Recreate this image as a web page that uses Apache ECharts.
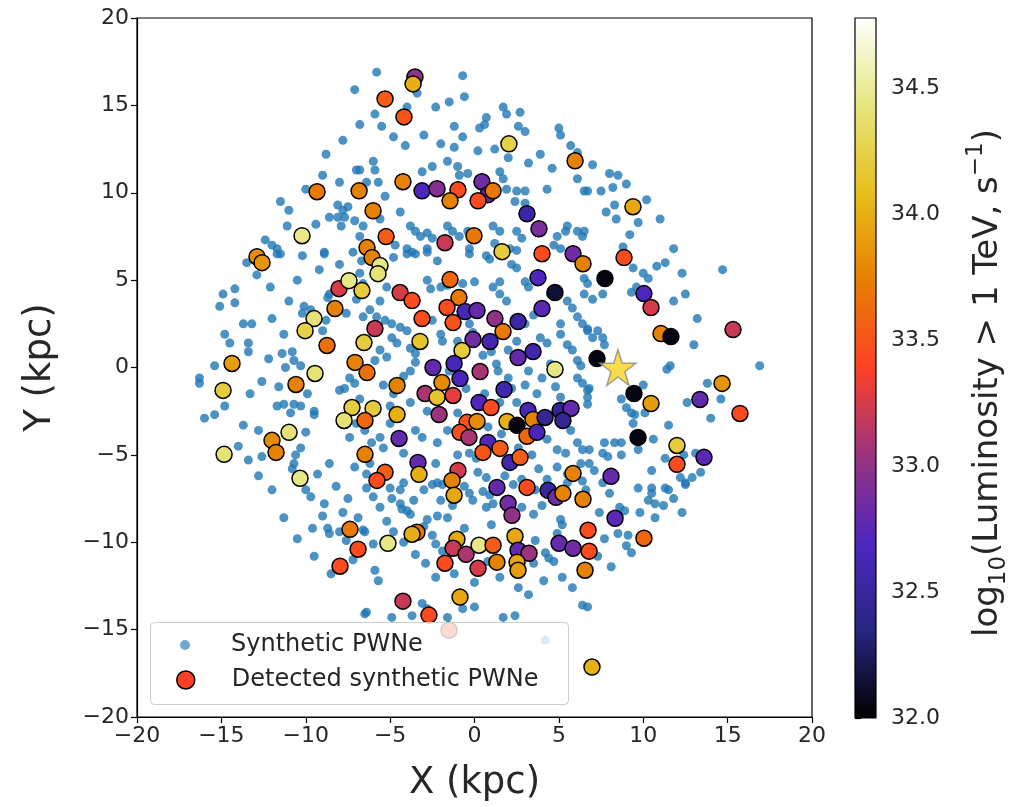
<!DOCTYPE html>
<html>
<head>
<meta charset="utf-8">
<script src="https://cdn.jsdelivr.net/npm/echarts@6/dist/echarts.min.js"></script>
<style>
  html, body { margin: 0; padding: 0; background: #fff; }
  #chart { width: 1012px; height: 807px; }
</style>
</head>
<body>
<div id="chart"></div>
<script>
// Galactic positions (kpc) of the synthetic pulsar wind nebulae population
const syntheticPWNe = [
  [-7.1,15.9],[-7.0,11.3],[-8.0,10.6],[-11.5,9.5],[-8.1,9.3],[-7.8,9.0],[-7.5,9.2],[-8.6,8.6],[-8.1,8.6],[-7.7,8.6],
  [-7.1,8.4],[-11.1,8.1],[-9.4,8.2],[-7.9,8.1],[-12.4,7.3],[-12.0,7.0],[-11.7,6.8],[-11.5,6.5],[-8.9,6.6],[-10.2,6.4],
  [-5.8,16.9],[-0.7,16.7],[-0.6,15.5],[-3.4,15.7],[-5.9,14.5],[-5.5,13.8],[-2.3,14.9],[-1.5,15.2],[-4.0,14.9],[-1.2,13.8],
  [-0.7,13.2],[-4.1,12.7],[0.7,14.3],[0.6,13.9],[0.3,13.7],[1.7,14.9],[1.9,14.5],[2.7,14.6],[2.6,13.8],[3.0,13.5],
  [5.0,13.7],[5.1,13.3],[3.9,12.2],[5.7,12.7],[6.1,12.3],[6.1,10.8],[6.5,10.1],[4.3,10.2],[-6.0,11.8],[-5.9,11.3],
  [-6.8,11.3],[-6.4,10.6],[-5.7,10.6],[-5.3,9.8],[-5.6,8.5],[-4.4,8.9],[-3.1,11.2],[-2.5,11.5],[-1.6,11.8],[-1.0,11.5],
  [-0.9,11.0],[-0.4,11.1],[1.5,11.2],[1.7,10.8],[1.9,10.2],[2.5,10.1],[3.0,10.1],[2.4,9.5],[3.0,9.4],[-3.8,8.1],
  [-3.5,7.8],[-3.2,7.5],[-2.8,7.7],[-2.5,7.4],[-1.6,8.1],[-1.3,7.8],[-0.9,7.5],[-0.4,7.8],[1.1,8.1],[1.5,7.8],
  [1.2,7.1],[2.5,7.8],[2.8,7.4],[-4.0,6.8],[-3.7,6.6],[-2.8,6.8],[-0.3,6.8],[2.1,6.8],[2.5,6.7],[4.9,7.5],
  [5.4,7.8],[5.5,8.1],[6.1,7.8],[6.4,7.5],[4.7,7.0],[5.1,6.8],[-6.6,8.1],[-6.8,7.5],[-5.1,7.5],[-4.7,7.0],
  [8.0,11.1],[8.5,11.0],[8.2,10.3],[6.7,10.1],[7.5,10.1],[8.3,9.3],[7.8,8.9],[8.4,8.5],[9.7,8.3],[9.2,7.6],
  [8.8,6.9],[6.5,7.8],
  [-11.7,6.5],[-8.9,6.5],[-6.8,5.4],[-14.2,4.5],[-14.9,4.2],[-15.1,3.5],[-14.2,3.7],[-12.1,4.6],[-13.7,2.5],[-13.2,2.5],
  [-14.8,1.9],[-14.5,1.4],[-13.4,1.4],[-13.4,0.9],[-11.3,1.9],[-11.4,0.8],[-10.8,0.9],[-10.7,0.4],[-10.3,0.1],[-11.2,0.0],
  [-10.1,3.5],[-10.2,3.1],[-9.7,3.3],[-8.7,4.0],[-8.6,4.2],[-9.0,2.1],[-7.6,3.1],[-8.8,2.7],[-15.4,0.1],[-16.3,-0.6],
  [-16.3,-0.9],[-11.6,-1.1],[-9.9,-1.5],[-11.7,-2.2],[-11.3,-2.1],[-10.7,-2.1],[-10.3,-2.2],[-10.9,-2.6],[-9.5,-2.5],[-9.5,-2.7],
  [-14.8,-2.2],[-16.0,-2.9],[-15.4,-2.7],[-13.7,-3.3],[-10.0,-3.7],[-10.3,-4.6],[-10.6,-5.0],[-12.6,-5.1],[-10.7,-5.5],[-8.6,-5.5],
  [-9.3,-6.1],[-10.8,-5.8],[-8.0,-1.3],[-7.7,-1.2],[-7.4,-0.6],[-7.1,-0.9],[-6.8,-1.8],[-7.4,-4.0],[-7.1,-5.7],[-7.0,-3.2],
  [-6.6,4.8],[-7.0,3.9],
  [-6.7,6.1],[-4.8,6.3],[-4.0,6.5],[-3.5,6.5],[-2.8,6.6],[-2.2,6.1],[-0.3,6.5],[0.7,6.4],[0.9,6.2],[2.2,5.9],
  [2.5,5.7],[3.0,4.9],[3.2,4.6],[5.5,3.8],[5.8,3.4],[6.1,2.9],[6.4,2.5],[6.7,2.1],[5.1,2.5],[5.5,1.3],
  [5.8,1.0],[6.1,0.4],[6.3,0.1],[6.1,-0.6],[6.4,-0.9],[4.8,-1.1],[5.1,-1.7],[6.7,-1.3],[6.7,-1.7],[5.7,-3.6],
  [6.1,-4.3],[6.4,-4.7],[6.3,-5.5],[-5.2,4.6],[-5.6,3.8],[-6.2,3.3],[-6.6,2.9],[-5.8,2.9],[-5.3,2.7],[-4.9,2.5],
  [-4.4,2.3],[-4.0,2.1],[-4.9,1.7],[-4.6,1.4],[-5.6,1.0],[-5.2,0.6],[-5.9,0.4],[-3.8,1.1],[-3.5,0.8],[-2.6,4.5],
  [-2.0,4.6],[-2.8,5.0],[-1.6,4.7],[-0.7,4.8],[0.0,4.9],[1.1,4.6],[1.5,4.9],[1.5,4.2],[1.9,3.8],[-0.3,2.5],
  [-0.1,2.0],[-2.0,1.9],[-1.9,1.5],[1.3,0.2],[1.4,-0.2],[2.0,-0.6],[3.9,1.7],[4.3,1.4],[5.1,1.9],[3.7,-1.5],
  [2.5,-2.0],[-3.5,-3.6],[-3.1,-4.0],[-5.0,-3.2],[-5.6,-4.0],[-5.4,-4.6],[-2.2,-4.3],[-1.6,-3.6],[-0.3,-4.9],[0.1,-5.2],
  [4.3,-4.1],[4.9,-4.7],[5.4,-4.9],[4.9,-5.7],[5.5,-6.1],[-4.2,-4.9],[-2.3,-5.5],[0.2,-6.0],[0.7,-6.3],[-4.2,-6.6],
  [-2.2,-6.6],[-1.9,-6.7],[5.5,-6.6],[6.4,-6.5],[-6.4,-6.1],[-6.1,-4.3],[-6.2,-5.5],[-6.7,-2.9],[-6.5,-3.6],
  [9.4,5.7],[10.0,5.4],[10.3,5.1],[10.8,5.8],[11.3,6.0],[14.7,5.6],[9.6,4.6],[9.3,4.3],[11.8,3.8],[6.5,5.1],
  [6.7,4.8],[6.5,4.2],[7.0,3.9],[7.6,4.2],[6.7,2.2],[7.3,2.1],[7.0,1.7],[7.6,1.7],[7.7,1.3],[11.4,-0.1],
  [11.6,0.1],[16.9,0.1],[13.8,-0.9],[14.0,-2.9],[10.0,-1.0],[8.7,-1.8],[9.0,-2.3],[9.3,-2.6],[9.5,-2.7],[9.4,-3.2],
  [10.1,-2.6],[6.8,-1.2],[6.7,-2.1],[7.7,-4.3],[8.3,-4.3],[8.7,-4.3],[7.6,-4.9],[7.9,-5.1],[8.7,-5.0],[9.7,-4.7],
  [6.8,-4.7],[6.8,-5.5],[7.1,-5.9],[13.1,-4.9],[13.4,-6.0],[12.9,-6.3],[12.2,-6.3],[9.7,-6.9],[10.5,-6.9],[11.3,-6.9],
  [12.5,-6.6],[7.6,-6.6],
  [-10.0,-7.0],[-9.7,-7.4],[-8.9,-7.8],[-9.0,-8.5],[-9.6,-9.2],[-8.7,-9.2],[-8.6,-9.5],[-8.0,-9.4],[-7.6,-9.9],[-6.5,-9.4],
  [-6.5,-14.1],
  [-5.0,-6.9],[-4.4,-7.0],[-4.9,-7.5],[-4.4,-7.8],[-4.0,-8.2],[-3.8,-8.4],[-4.3,-8.1],[-6.4,-6.9],[-6.0,-7.4],[-5.6,-8.0],
  [-6.6,-9.3],[-2.5,-6.7],[-2.0,-7.6],[-2.8,-8.7],[-2.2,-8.5],[-1.6,-8.6],[-3.0,-9.1],[-2.5,-9.6],[-2.3,-10.1],[-1.9,-10.5],
  [-0.3,-7.2],[-0.1,-7.6],[0.5,-7.1],[0.9,-7.3],[1.1,-7.8],[0.7,-8.0],[2.3,-6.7],[5.1,-8.7],[4.9,-9.5],[4.2,-10.6],
  [4.4,-10.9],[4.7,-11.1],[3.6,-9.9],[3.5,-11.2],[4.1,-12.2],[6.4,-13.6],[-5.9,-11.6],[-5.7,-12.2],[-6.4,-14.0],[-4.9,-14.3],
  [-3.7,-14.2],[-3.1,-13.5],[-2.8,-13.8],[-1.6,-14.3],[-0.7,-13.8],[0.0,-13.7],[1.7,-14.3],[2.4,-14.2],[-2.3,-12.0],[0.8,-11.1],
  [4.2,-15.6],
  [10.5,-7.2],[10.3,-7.6],[10.7,-7.8],[11.2,-7.9],[11.5,-7.0],[11.8,-7.5],[12.5,-6.7],[12.3,-8.3],[9.8,-8.3],[10.7,-8.6],
  [7.4,-8.3],[8.6,-8.0],[8.9,-8.2],[7.7,-9.8],[8.5,-9.5],[9.1,-9.6],[9.0,-10.2],[9.3,-10.6],[6.7,-13.7],
  [-3.0,3.0],[-2.5,2.7],[-1.0,1.5],[-0.5,1.0],[0.5,0.7],[1.0,0.9],[2.0,1.0],[2.5,1.5],[3.0,2.5],[3.5,3.0],
  [4.2,3.5],[4.5,4.2],[-4.2,-0.5],[-3.8,-0.2],[-3.5,0.3],[-1.5,-0.2],[-0.5,-1.2],[0.6,-1.5],[1.5,-2.0],[2.2,-1.2],
  [3.0,-1.0],[4.0,-0.6],[4.5,0.2],[3.2,-0.2],[-2.8,-2.5],[-3.8,-2.0],[-4.8,-1.5],[-5.4,-1.0],[-5.0,-2.2],[-1.0,-2.6],
  [0.8,-3.4],[1.6,-3.8],[2.6,-4.6],[3.4,-5.0],[3.8,-5.8],[4.3,-6.4],[-1.0,-5.0],[-0.6,-6.8],[1.8,-6.2],[2.8,-6.4],
  [3.6,-7.0],[-3.0,-7.0],[-3.6,-7.6],[-5.2,-8.8],[-4.8,-9.4],[-4.2,-10.0],[-3.5,-10.7],[-2.9,-11.2],[-1.2,-11.8],[0.0,-12.3],
  [1.5,-12.0],[2.6,-12.6],[3.2,-13.0],[5.2,-12.0],[5.8,-12.6],[-7.5,-7.5],[-8.2,-6.8],[-7.8,-8.3],[-6.9,-8.6],[-6.0,-10.1],
  [-7.2,-11.0],[-8.5,-11.8],[-9.5,-10.8],[-10.5,-9.8],[-11.3,-8.6],[-12.0,-7.0],[-12.8,-6.2],[-13.4,-5.3],[-14.0,-4.5],[-12.8,-3.6],
  [-13.3,-1.5],[-12.6,-0.8],[-12.2,0.5],[-12.0,2.8],[-11.0,3.8],[-10.5,5.0],[-9.2,5.6],[-8.0,5.9],[-7.2,6.6],[-12.9,5.3],
  [-13.5,6.0],[-11.0,9.0],[-10.0,10.2],[-9.0,11.0],[-8.8,12.2],[-7.8,13.0],[-6.8,13.9],[-4.8,13.2],[-3.0,13.3],[-2.0,12.8],
  [-1.2,12.6],[0.2,12.4],[1.2,12.5],[2.0,12.0],[3.2,11.7],[4.6,11.4],[7.0,11.6],[9.0,10.5],[10.2,9.6],[11.0,8.5],
  [11.8,6.8],[12.3,5.4],[12.5,4.2],[13.2,2.8],[13.0,1.3],[14.6,-1.8],[12.6,-2.0],[11.5,-3.3],[10.6,-4.1],[11.3,-5.2],
  [12.4,-5.0],[10.5,-5.9],[8.0,-7.2],[6.6,-7.0],[7.3,-10.8],[8.1,-11.4],[5.9,-10.4],[5.2,-9.0],[2.2,-9.5],[1.0,-9.0],
  [-0.6,-9.2],[-1.3,-7.9],[2.8,-8.0],[3.5,-8.4],[4.0,-7.9]
];

// Detected sources: x (kpc), y (kpc), log10 luminosity above 1 TeV
const detectedX = [
  -3.53,-3.64,-5.30,-4.18,2.04,9.39,5.96,-9.33,-6.84,-4.24,-3.11,-2.22,-0.98,-1.45,0.44,0.80,1.10,0.21,3.11,3.82,
  -6.01,-5.24,-1.75,-0.03,-10.22,1.63,4.00,5.84,6.43,8.86,-12.89,-12.59,-6.37,-6.07,-5.60,-5.72,7.73,4.77,3.76,-1.45,
  -4.41,-3.70,-0.92,-1.63,-0.56,0.15,1.21,1.69,2.58,4.00,-3.11,-1.27,-5.90,-8.03,-7.44,-6.67,-8.27,-9.51,-10.04,-8.74,
  -6.55,-3.23,-0.09,0.92,-0.74,2.58,3.47,-2.46,-1.21,0.33,4.77,-7.08,-14.37,-6.37,-4.59,-1.93,-0.86,-2.93,-2.22,-1.27,
  1.75,0.27,0.98,-6.01,-4.59,-2.10,-6.49,-0.44,0.15,1.93,2.52,3.17,3.47,4.18,5.07,5.72,5.24,-0.86,-0.33,0.80,
  3.11,3.70,-4.47,0.50,1.51,2.10,2.70,-6.49,-3.35,-3.29,-5.30,-5.78,-0.98,-1.33,5.84,1.33,3.11,4.36,4.83,5.24,
  6.43,-1.21,1.99,2.22,8.33,10.04,6.73,6.79,6.55,-7.38,-6.90,-7.97,-5.13,-3.41,-3.70,-1.04,-1.27,-0.50,0.27,1.10,
  1.33,2.40,2.58,3.23,2.52,2.58,-1.75,0.21,5.01,5.84,-4.24,-0.86,-2.70,-1.51,6.96,10.04,10.46,11.05,11.64,15.32,
  7.26,9.45,10.46,14.67,13.36,15.73,9.69,12.00,12.00,13.60,8.09,-14.90,-10.58,-9.45,-7.26,-7.73,-10.99,-12.00,-11.76,-14.84,
  -10.34
];
const detectedY = [
  16.63,16.23,15.37,14.34,12.80,9.20,11.83,10.06,10.11,10.63,10.11,10.23,10.17,9.54,10.63,9.89,10.11,9.54,8.80,7.94,
  8.97,7.49,7.14,7.54,7.54,6.63,6.51,6.51,5.94,6.29,6.34,6.00,6.86,6.29,5.83,5.37,5.09,4.29,5.14,5.03,
  4.29,3.83,4.00,3.43,3.20,3.26,2.80,2.06,2.63,3.37,2.80,2.57,2.23,4.51,4.97,4.40,3.37,2.80,2.11,1.26,
  1.43,1.49,1.60,1.49,0.97,0.57,0.91,0.00,0.23,-0.23,-0.11,0.29,0.23,-0.29,-1.03,-0.86,-0.63,-1.49,-1.71,-1.60,
  -1.26,-2.00,-2.29,-2.34,-2.69,-2.69,-3.03,-3.14,-3.09,-3.09,-3.31,-2.46,-2.97,-2.86,-2.46,-2.34,-3.03,-3.71,-4.00,-4.29,
  -3.94,-3.71,-4.06,-4.86,-4.63,-5.43,-5.14,-4.97,-5.43,-6.11,-6.00,-6.46,-5.89,-6.46,-6.06,-6.86,-6.86,-7.03,-7.43,-7.20,
  -7.54,-7.31,-7.77,-8.46,-8.63,-9.77,-9.31,-10.51,-11.60,-9.26,-10.40,-11.37,-10.06,-9.43,-9.54,-9.83,-10.34,-10.69,-10.17,-10.17,
  -11.14,-9.66,-10.46,-10.63,-11.14,-11.60,-11.20,-11.49,-10.06,-10.34,-13.37,-13.14,-14.17,-15.03,-17.14,4.23,3.43,1.94,1.77,2.17,
  0.51,-1.49,-2.06,-0.91,-1.83,-2.63,-4.00,-4.46,-5.54,-5.14,-6.23,-1.31,-0.97,-0.34,-2.29,-3.03,-3.71,-4.17,-4.86,-4.97,
  -6.34
];
const detectedLogL = [
  33.00,34.00,33.55,33.50,34.25,33.95,33.75,33.70,33.75,33.75,32.70,32.95,33.45,33.75,32.85,32.80,33.70,33.45,32.55,32.90,
  33.75,33.55,33.20,33.70,34.45,34.20,33.45,32.85,33.75,33.45,33.80,33.85,33.75,33.75,34.45,34.40,32.05,32.15,32.70,33.60,
  33.25,33.45,33.70,33.45,32.65,32.80,33.00,33.70,32.55,32.75,33.45,33.50,33.20,33.25,34.45,34.20,33.75,34.40,34.25,33.65,
  34.20,34.15,32.85,32.60,34.20,32.80,32.60,32.80,32.65,33.10,34.45,33.75,33.90,33.65,33.75,33.80,32.65,33.10,34.15,33.30,
  32.60,32.70,33.45,34.20,34.00,33.05,33.60,33.50,33.80,34.00,32.05,32.65,33.75,32.45,32.45,32.80,32.45,33.45,33.10,32.70,
  33.60,32.65,32.80,33.50,33.55,32.60,33.55,33.75,32.80,34.00,33.55,33.45,33.25,33.75,33.75,32.80,33.45,32.50,32.85,33.75,
  33.75,33.95,32.85,33.00,32.75,33.60,33.45,33.45,33.75,33.70,33.45,33.45,34.45,33.70,34.00,33.95,33.20,33.10,34.45,33.55,
  33.75,33.95,32.80,33.05,33.95,33.90,33.45,33.25,32.80,32.85,33.20,33.95,33.45,33.45,34.00,32.70,33.25,33.75,32.05,33.20,
  32.05,32.05,33.90,33.85,32.80,33.45,32.05,34.20,33.45,32.75,32.80,34.20,33.75,34.40,34.20,34.40,34.40,33.80,33.75,34.40,
  34.45
];

// Position of the Sun
const sunPosition = [8.5, 0];

// Axis ticks
const xyTicks = [-20, -15, -10, -5, 0, 5, 10, 15, 20];
const colorbarRange = [32.0, 34.78];
const colorbarTicks = [32.0, 32.5, 33.0, 33.5, 34.0, 34.5];

// CMRmap colour scale, evenly spaced stops from low to high luminosity
const cmrColors = ['#000000','#262680','#4d26bf','#993380','#ff4026','#e68000','#e6bf1a','#e6e680','#ffffff'];

const detectedData = detectedX.map((x, i) => [x, detectedY[i], detectedLogL[i]]);

const FONT = 'DejaVu Sans';
const TXT = '#262626';
const minus = v => String(v).replace('-', '\u2212');

const chart = echarts.init(document.getElementById('chart'), null, { renderer: 'canvas' });

const option = {
  backgroundColor: '#fff',
  animation: false,
  grid: [
    { left: 137, top: 18, width: 675, height: 700, show: true, borderColor: '#000', borderWidth: 1.2, backgroundColor: 'transparent' },
    { left: 855, top: 18, width: 35, height: 700 }
  ],
  xAxis: [
    {
      gridIndex: 0, type: 'value', min: xyTicks[0], max: xyTicks[xyTicks.length - 1], interval: 5,
      name: 'X (kpc)', nameLocation: 'middle', nameGap: 48,
      nameTextStyle: { fontFamily: FONT, fontSize: 37, color: TXT, verticalAlign: 'top' },
      axisLine: { show: true, onZero: false, lineStyle: { color: '#000', width: 1.2 } },
      axisTick: { show: true, inside: false, length: 6, lineStyle: { color: '#000', width: 1.2 } },
      axisLabel: { margin: 8, fontFamily: FONT, fontSize: 22, color: TXT, formatter: minus },
      splitLine: { show: false }
    },
    { gridIndex: 1, type: 'value', min: 0, max: 1, show: false }
  ],
  yAxis: [
    {
      gridIndex: 0, type: 'value', min: xyTicks[0], max: xyTicks[xyTicks.length - 1], interval: 5,
      name: 'Y (kpc)', nameLocation: 'middle', nameGap: 78, nameRotate: 90,
      nameTextStyle: { fontFamily: FONT, fontSize: 37, color: TXT },
      axisLine: { show: true, onZero: false, lineStyle: { color: '#000', width: 1.2 } },
      axisTick: { show: true, inside: false, length: 6, lineStyle: { color: '#000', width: 1.2 } },
      axisLabel: { margin: 8, fontFamily: FONT, fontSize: 22, color: TXT, formatter: minus },
      splitLine: { show: false }
    },
    {
      gridIndex: 1, type: 'value', position: 'right',
      min: colorbarRange[0], max: colorbarRange[1], interval: 0.5,
      name: 'log{sub|10}(Luminosity > 1 TeV, s{sup|\u22121})',
      nameLocation: 'middle', nameGap: 89, nameRotate: 90,
      nameTextStyle: {
        fontFamily: FONT, fontSize: 34, color: TXT, lineHeight: 46, padding: [0, 30, 0, 0],
        rich: {
          sub: { fontFamily: FONT, fontSize: 23, color: TXT, verticalAlign: 'bottom', lineHeight: 28 },
          sup: { fontFamily: FONT, fontSize: 23, color: TXT, verticalAlign: 'top', lineHeight: 28 }
        }
      },
      axisLine: { show: false },
      axisTick: { show: true, inside: false, length: 6, lineStyle: { color: '#000', width: 1.2 },
        customValues: colorbarTicks },
      axisLabel: { margin: 15, fontFamily: FONT, fontSize: 22, color: TXT,
        customValues: colorbarTicks, formatter: v => v.toFixed(1) },
      splitLine: { show: false }
    }
  ],
  visualMap: {
    type: 'continuous', show: false, seriesIndex: 1, dimension: 2,
    min: colorbarRange[0], max: colorbarRange[1],
    inRange: { color: cmrColors }
  },
  legend: [
    {
      data: [{ name: 'Synthetic PWNe', icon: 'circle', itemStyle: { color: '#4c92c3', borderWidth: 0 } }],
      left: 180, top: 632, padding: 0, itemWidth: 10, itemHeight: 10, z: 20,
      selectedMode: false,
      textStyle: { fontFamily: FONT, fontSize: 24, lineHeight: 26, color: TXT, padding: [0, 0, 0, 36] }
    },
    {
      data: [{ name: 'Detected synthetic PWNe', icon: 'circle', itemStyle: { color: '#ff4026', borderColor: '#000', borderWidth: 1.5 } }],
      left: 176, top: 667, padding: 0, itemWidth: 18, itemHeight: 18, z: 20,
      selectedMode: false,
      textStyle: { fontFamily: FONT, fontSize: 24, lineHeight: 26, color: TXT, padding: [0, 0, 0, 32] }
    }
  ],
  graphic: [
    {
      type: 'rect', left: 150, top: 622, z: 15,
      shape: { width: 418, height: 82, r: 4 },
      style: { fill: 'rgba(255,255,255,0.8)', stroke: '#cccccc', lineWidth: 1 }
    }
  ],
  series: [
    {
      name: 'Synthetic PWNe', type: 'scatter', xAxisIndex: 0, yAxisIndex: 0,
      data: syntheticPWNe, symbol: 'circle', symbolSize: 9,
      itemStyle: { color: '#1f77b4', opacity: 0.8 }, z: 2, silent: true
    },
    {
      name: 'Detected synthetic PWNe', type: 'scatter', xAxisIndex: 0, yAxisIndex: 0,
      data: detectedData, symbol: 'circle', symbolSize: 16,
      itemStyle: { borderColor: '#000', borderWidth: 1.5, opacity: 1 }, z: 3, silent: true
    },
    {
      name: 'Sun', type: 'scatter', xAxisIndex: 0, yAxisIndex: 0,
      data: [sunPosition],
      symbol: 'path://M50,0 L61.2,34.5 L97.6,34.5 L68.2,55.9 L79.4,90.5 L50,69.1 L20.6,90.5 L31.8,55.9 L2.4,34.5 L38.8,34.5 Z',
      symbolSize: 36, itemStyle: { color: '#f8d31e', borderColor: '#8a8a8a', borderWidth: 1.5 }, z: 4, silent: true
    },
    {
      name: 'colorbar', type: 'custom', xAxisIndex: 1, yAxisIndex: 1,
      data: [[0, colorbarRange[0], 1, colorbarRange[1]]],
      silent: true,
      renderItem: (params, api) => {
        const p0 = api.coord([api.value(0), api.value(1)]);
        const p1 = api.coord([api.value(2), api.value(3)]);
        const stops = cmrColors.map((c, i) => ({ offset: i / (cmrColors.length - 1), color: c }));
        return {
          type: 'rect',
          shape: { x: p0[0], y: p1[1], width: p1[0] - p0[0], height: p0[1] - p1[1] },
          style: { fill: new echarts.graphic.LinearGradient(0, 1, 0, 0, stops), stroke: '#000', lineWidth: 1.2 }
        };
      }
    }
  ]
};

chart.setOption(option);
</script>
</body>
</html>
